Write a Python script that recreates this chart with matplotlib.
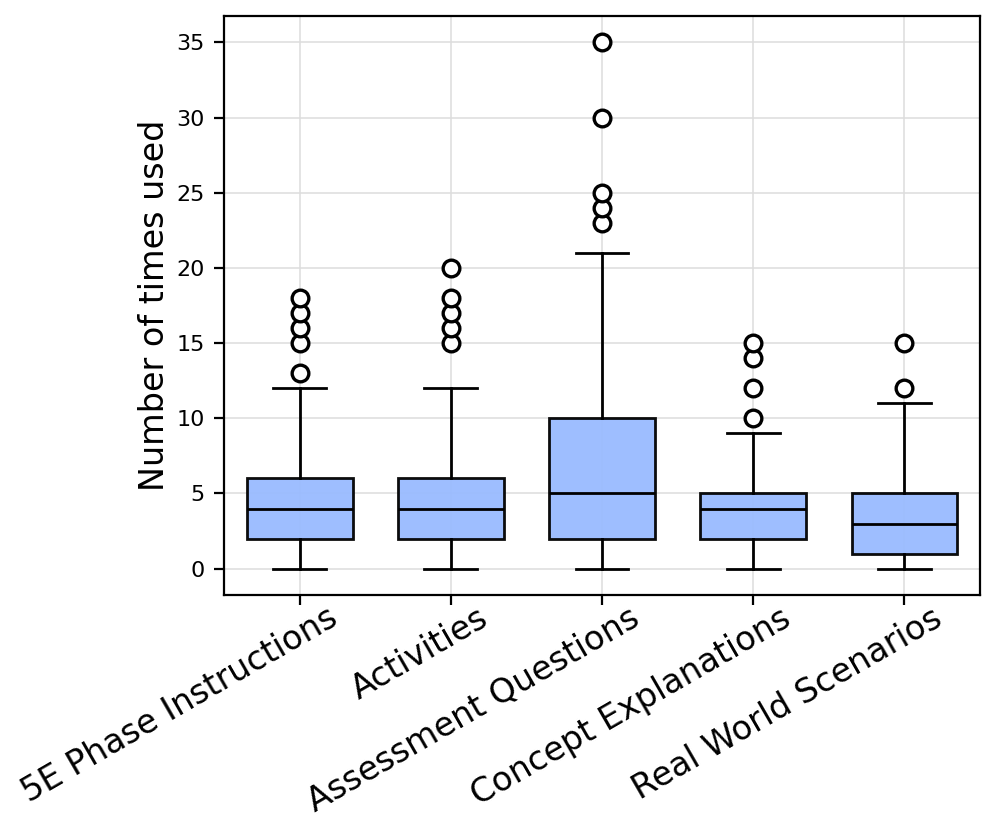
import matplotlib
matplotlib.use('Agg')
import matplotlib.pyplot as plt
from matplotlib.transforms import ScaledTranslation

categories = ['5E Phase Instructions', 'Activities', 'Assessment Questions',
              'Concept Explanations', 'Real World Scenarios']
whislo = [0, 0, 0, 0, 0]
q1 = [2, 2, 2, 2, 1]
med = [4, 4, 5, 4, 3]
q3 = [6, 6, 10, 5, 5]
whishi = [12, 12, 21, 9, 11]
fliers = [[13, 15, 16, 17, 18],
          [15, 16, 17, 18, 20],
          [23, 24, 25, 30, 35],
          [10, 12, 14, 15],
          [12, 15]]

stats = [dict(label=c, whislo=a, q1=b, med=m, q3=d, whishi=e, fliers=f)
         for c, a, b, m, d, e, f in zip(categories, whislo, q1, med, q3, whishi, fliers)]

fig = plt.figure(figsize=(4.985, 4.125), dpi=200)
ax = fig.add_axes([0.2247, 0.2788, 0.7583, 0.7018])
ax.grid(True, color='#dddddd', linewidth=0.7, alpha=0.8)
ax.set_axisbelow(True)
ax.bxp(stats, widths=0.7, patch_artist=True,
       boxprops=dict(facecolor='#99bbff', edgecolor='black', linewidth=1.0, alpha=0.95),
       medianprops=dict(color='black', linewidth=1.0),
       whiskerprops=dict(color='black', linewidth=1.0),
       capprops=dict(color='black', linewidth=1.0),
       flierprops=dict(marker='o', markerfacecolor='white', markeredgecolor='black',
                       markersize=6, markeredgewidth=1.2))
ax.set_ylabel('Number of times used', fontsize=12, labelpad=2)
ax.tick_params(axis='y', labelsize=8)
# labels sit a bit right of their ticks in the original
shift = ScaledTranslation(27 / 200, 13 / 200, fig.dpi_scale_trans)
for lab in ax.get_xticklabels():
    lab.set_rotation(30)
    lab.set_ha('right')
    lab.set_rotation_mode('anchor')
    lab.set_fontsize(12)
    lab.set_transform(lab.get_transform() + shift)
fig.savefig('out.png', dpi=200)
